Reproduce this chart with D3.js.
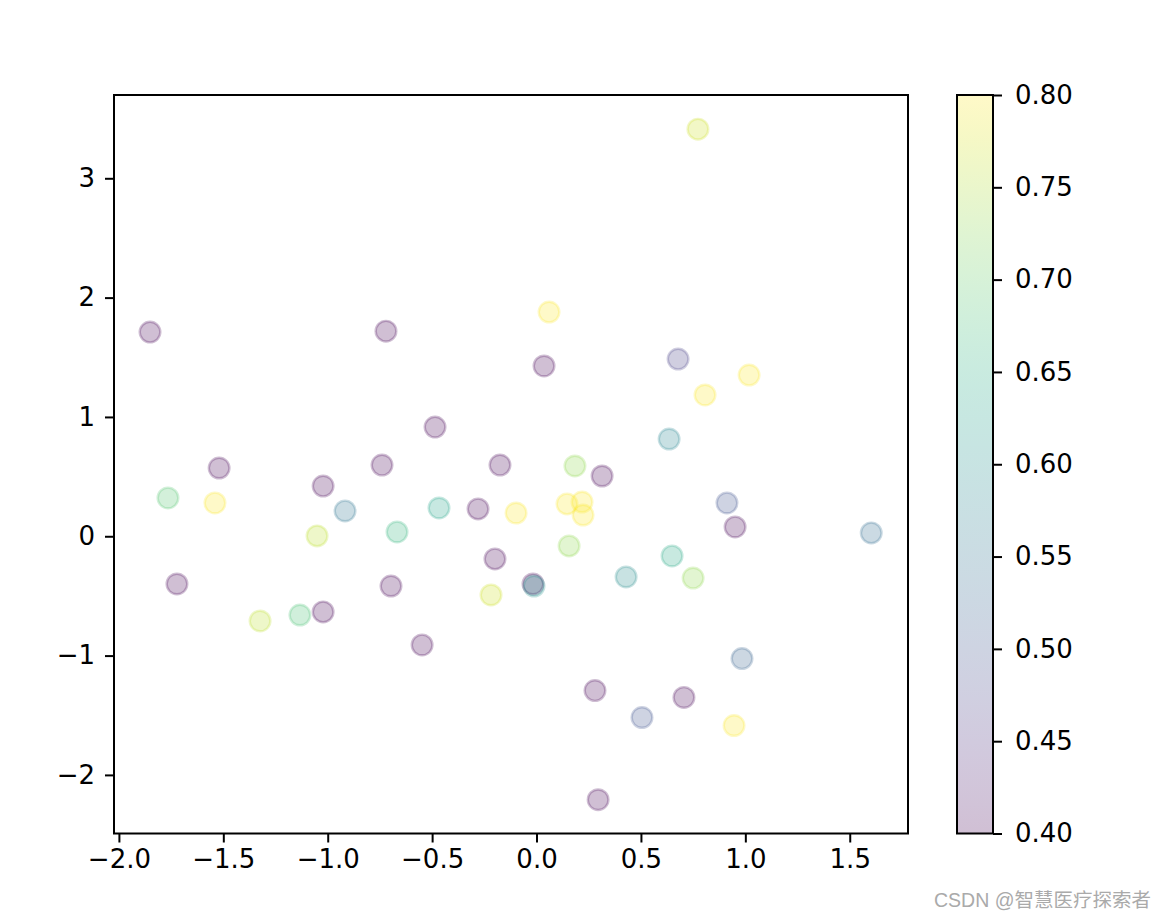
<!DOCTYPE html>
<html>
<head>
<meta charset="utf-8">
<script src="https://cdn.jsdelivr.net/npm/d3@7"></script>
<style>
  body { margin: 0; background: #fff; }
  text { font-family: "DejaVu Sans", sans-serif; }
</style>
</head>
<body>
<div class="scatter"></div>
<script>
// data
const xs = [-1.851, -0.721, -0.486, 0.773, 0.060, 0.036, 0.678, 1.018, 0.807, 0.635,
  -1.520, -1.765, -1.540, -1.022, -0.740, -0.175, -0.917, -0.467, -0.280, -1.051,
  -0.668, -0.199, -1.722, -0.697, -0.218, -1.324, -1.133, -1.022, -0.548, -0.098,
  0.184, 0.314, 0.146, 0.218, 0.223, 0.912, 0.951, 1.603, 0.156, 0.649,
  0.429, 0.750, -0.017, -0.012, 0.984, 0.280, 0.706, 0.505, 0.946, 0.295];
const ys = [1.711, 1.719, 0.915, 3.412, 1.879, 1.427, 1.485, 1.351, 1.184, 0.815,
  0.572, 0.321, 0.279, 0.421, 0.597, 0.597, 0.212, 0.237, 0.229, 0.003,
  0.036, -0.190, -0.400, -0.417, -0.492, -0.710, -0.660, -0.634, -0.911, 0.195,
  0.589, 0.505, 0.271, 0.287, 0.178, 0.279, 0.078, 0.028, -0.081, -0.165,
  -0.341, -0.350, -0.400, -0.417, -1.025, -1.293, -1.351, -1.519, -1.586, -2.208];
const cs = [0.40, 0.40, 0.40, 0.77, 0.80, 0.40, 0.47, 0.80, 0.80, 0.58,
  0.40, 0.69, 0.80, 0.40, 0.40, 0.40, 0.55, 0.63, 0.40, 0.76,
  0.66, 0.40, 0.40, 0.40, 0.77, 0.76, 0.68, 0.40, 0.40, 0.80,
  0.73, 0.40, 0.80, 0.80, 0.80, 0.50, 0.40, 0.54, 0.73, 0.64,
  0.59, 0.73, 0.40, 0.60, 0.52, 0.40, 0.40, 0.50, 0.80, 0.40];

const xTicks = [-2.0, -1.5, -1.0, -0.5, 0.0, 0.5, 1.0, 1.5];
const yTicks = [-2, -1, 0, 1, 2, 3];
const cTicks = [0.40, 0.45, 0.50, 0.55, 0.60, 0.65, 0.70, 0.75, 0.80];

const W = 1168, H = 918;
const margin = { top: 95, right: 260, bottom: 84.5, left: 114 };
const width = W - margin.left - margin.right;
const height = H - margin.top - margin.bottom;
const alpha = 0.25;
const fontSize = 26;

const svg = d3.select('.scatter')
  .append('svg')
  .attr('width', W)
  .attr('height', H);

const g = svg.append('g')
  .attr('transform', 'translate(' + margin.left + ',' + margin.top + ')');

const x = d3.scaleLinear().domain([-2.0235, 1.779]).range([0, width]);
const y = d3.scaleLinear().domain([-2.491, 3.698]).range([height, 0]);
const color = d3.scaleSequential(d3.interpolateViridis).domain([0.4, 0.8]).clamp(true);

// points
const pts = d3.range(xs.length).map(i => ({ x: xs[i], y: ys[i], c: cs[i] }));

g.selectAll('.dot')
  .data(pts)
  .enter()
  .append('circle')
  .attr('class', 'dot')
  .attr('cx', d => x(d.x))
  .attr('cy', d => y(d.y))
  .attr('r', 10.3)
  .attr('fill', d => color(d.c))
  .attr('fill-opacity', alpha)
  .attr('stroke', d => color(d.c))
  .attr('stroke-opacity', alpha)
  .attr('stroke-width', 2.4);

// axes
const xaxis = d3.axisBottom(x).tickValues(xTicks).tickFormat(d3.format('.1f'))
  .tickSize(9).tickPadding(7).tickSizeOuter(0);
const yaxis = d3.axisLeft(y).tickValues(yTicks).tickFormat(d3.format('d'))
  .tickSize(9).tickPadding(10).tickSizeOuter(0);

const gx = g.append('g')
  .attr('transform', 'translate(0,' + height + ')')
  .call(xaxis);
const gy = g.append('g').call(yaxis);

[gx, gy].forEach(a => {
  a.select('.domain').remove();
  a.selectAll('line').attr('stroke', '#000').attr('stroke-width', 2);
  a.selectAll('text').attr('fill', '#000').style('font-size', fontSize + 'px');
});

g.append('rect')
  .attr('width', width)
  .attr('height', height)
  .attr('fill', 'none')
  .attr('stroke', '#000')
  .attr('stroke-width', 2);

// colorbar
const cbX = 957, cbW = 36;
const cb = svg.append('g').attr('transform', 'translate(' + cbX + ',' + margin.top + ')');
const cy = d3.scaleLinear().domain([0.4, 0.8]).range([height, 0]);

const grad = svg.append('defs').append('linearGradient')
  .attr('id', 'cbgrad')
  .attr('x1', 0).attr('y1', 1).attr('x2', 0).attr('y2', 0);
grad.selectAll('stop')
  .data(d3.range(0, 1.0001, 0.02))
  .enter()
  .append('stop')
  .attr('offset', d => d)
  .attr('stop-color', d => d3.interpolateViridis(d))
  .attr('stop-opacity', alpha);

cb.append('rect')
  .attr('width', cbW)
  .attr('height', height)
  .attr('fill', 'url(#cbgrad)');

const caxis = d3.axisRight(cy).tickValues(cTicks).tickFormat(d3.format('.2f'))
  .tickSize(9).tickPadding(13).tickSizeOuter(0);
const gc = cb.append('g')
  .attr('transform', 'translate(' + cbW + ',0)')
  .call(caxis);
gc.select('.domain').remove();
gc.selectAll('line').attr('stroke', '#000').attr('stroke-width', 2);
gc.selectAll('text').attr('fill', '#000').style('font-size', fontSize + 'px');

cb.append('rect')
  .attr('width', cbW)
  .attr('height', height)
  .attr('fill', 'none')
  .attr('stroke', '#000')
  .attr('stroke-width', 2);

// watermark
svg.append('text')
  .attr('x', 1151)
  .attr('y', 907)
  .attr('text-anchor', 'end')
  .attr('fill', '#aaaaaa')
  .style('font-family', '"Liberation Sans", "Noto Sans CJK SC", sans-serif')
  .style('font-size', '19.5px')
  .text('CSDN @智慧医疗探索者');
</script>
</body>
</html>
